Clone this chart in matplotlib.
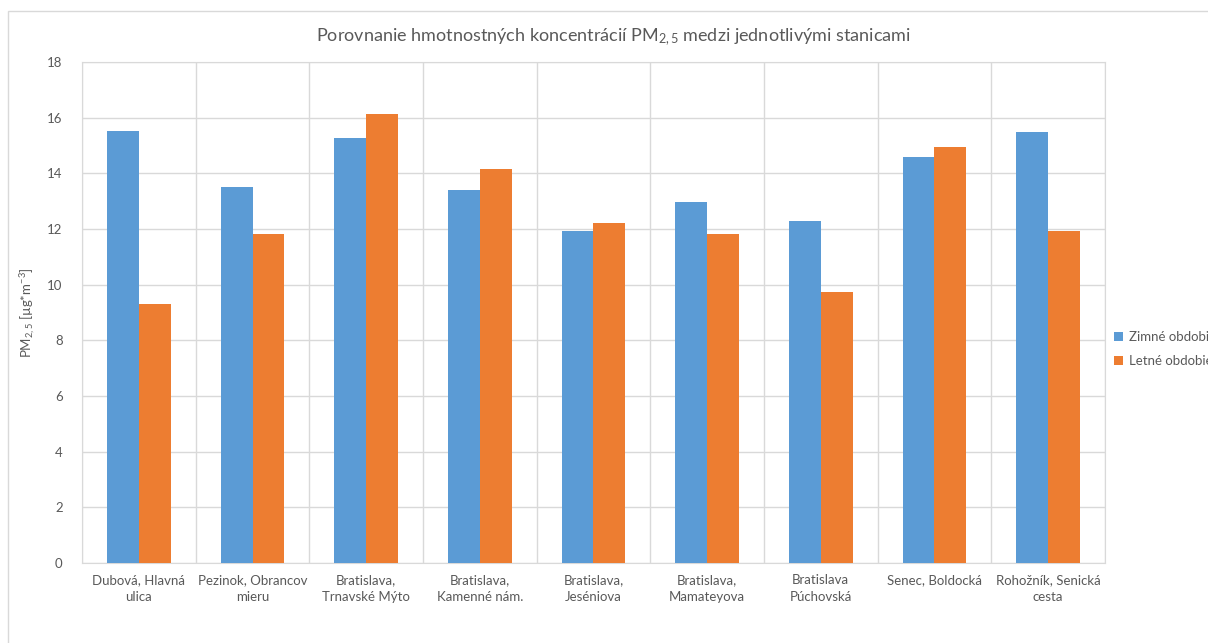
import numpy as np
import matplotlib.pyplot as plt
from matplotlib.patches import Rectangle

plt.rcParams['font.family'] = ['Lato', 'DejaVu Sans']
plt.rcParams['mathtext.fontset'] = 'custom'
plt.rcParams['mathtext.rm'] = 'Lato'
plt.rcParams['mathtext.it'] = 'Lato:italic'
plt.rcParams['mathtext.default'] = 'rm'

# stations and mean PM2.5 concentrations
stations = ['Dubová, Hlavná\nulica', 'Pezinok, Obrancov\nmieru', 'Bratislava,\nTrnavské Mýto',
            'Bratislava,\nKamenné nám.', 'Bratislava,\nJeséniova', 'Bratislava,\nMamateyova',
            'Bratislava\nPúchovská', 'Senec, Boldocká', 'Rohožník, Senická\ncesta']
winter = [15.52, 13.51, 15.27, 13.40, 11.93, 12.97, 12.29, 14.59, 15.49]
summer = [9.31, 11.82, 16.13, 14.16, 12.22, 11.82, 9.74, 14.95, 11.93]
series_names = ['Zimné obdobie', 'Letné obdobie']

text_col = '#595959'
grid_col = '#d9d9d9'

fig = plt.figure(figsize=(12.08, 6.43), dpi=100)
ax = fig.add_axes([0.0679, 0.1244, 0.8468, 0.7792])

x = np.arange(len(stations))
w = 0.28
b1 = ax.bar(x - w / 2, winter, w, color='#5B9BD5', label=series_names[0], zorder=3)
b2 = ax.bar(x + w / 2, summer, w, color='#ED7D31', label=series_names[1], zorder=3)

ax.set_xlim(-0.5, len(stations) - 0.5)
ax.set_ylim(0, 18)
ax.set_yticks(np.arange(0, 19, 2))
ax.set_xticks(x)
ax.set_xticklabels(stations, fontsize=9.5, color=text_col, linespacing=1.5)
ax.tick_params(axis='y', labelsize=9.5, labelcolor=text_col, length=0, pad=14)
ax.tick_params(axis='x', length=0, pad=8)

# grid lines between categories and at each y tick
ax.set_xticks(np.arange(-0.5, len(stations), 1), minor=True)
ax.tick_params(axis='x', which='minor', length=0)
ax.grid(True, axis='x', which='minor', color=grid_col, linewidth=1, zorder=0)
ax.grid(True, axis='y', which='major', color=grid_col, linewidth=1, zorder=0)
for s in ax.spines.values():
    s.set_color(grid_col)

ax.set_ylabel('PM$_{2,5}$ [µg*m$^{-3}$]', fontsize=9.5, color=text_col)
ax.yaxis.set_label_coords(-0.043, 0.5)
fig.text(0.5075, 0.942, 'Porovnanie hmotnostných koncentrácií PM$_{2,5}$ medzi jednotlivými stanicami',
         ha='center', va='center', fontsize=13, color=text_col)

fig.legend(handles=[b1, b2], loc='center left', bbox_to_anchor=(0.918, 0.457), frameon=False,
           fontsize=9.5, labelcolor=text_col, handlelength=0.7, handleheight=0.7,
           handletextpad=0.4, labelspacing=0.9, borderaxespad=0)

# chart area border
fig.patches.append(Rectangle((8 / 1208, -0.05), 1.0, 1 - 11 / 643 + 0.05, transform=fig.transFigure,
                             fill=False, edgecolor=grid_col, linewidth=1))

fig.savefig('out.png', dpi=100)
